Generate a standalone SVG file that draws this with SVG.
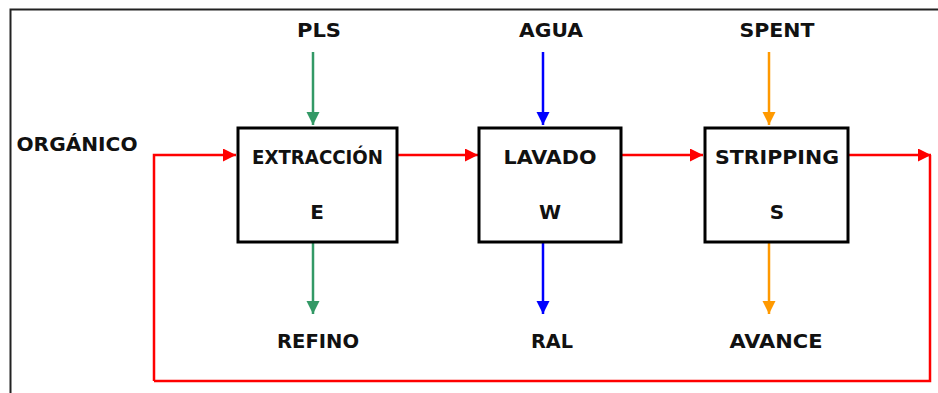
<svg xmlns="http://www.w3.org/2000/svg" width="938" height="393" viewBox="0 0 938 393">
<defs>
<style>
text{font-family:"DejaVu Sans","Liberation Sans",sans-serif;font-weight:bold;font-size:20px;fill:#111;text-anchor:middle}
.box{fill:#fff;stroke:#000;stroke-width:3}
.c{fill:none;stroke-width:2.5}
.red{stroke:#ff0000}.grn{stroke:#339966}.blu{stroke:#0000ff}.org{stroke:#ff9900}
</style>
<marker id="aR" markerUnits="userSpaceOnUse" markerWidth="14" markerHeight="14" refX="13" refY="6.5" orient="auto"><path d="M0,0 L13,6.5 L0,13 z" fill="#ff0000"/></marker>
<marker id="aG" markerUnits="userSpaceOnUse" markerWidth="14" markerHeight="14" refX="13" refY="6.5" orient="auto"><path d="M0,0 L13,6.5 L0,13 z" fill="#339966"/></marker>
<marker id="aB" markerUnits="userSpaceOnUse" markerWidth="14" markerHeight="14" refX="13" refY="6.5" orient="auto"><path d="M0,0 L13,6.5 L0,13 z" fill="#0000ff"/></marker>
<marker id="aO" markerUnits="userSpaceOnUse" markerWidth="14" markerHeight="14" refX="13" refY="6.5" orient="auto"><path d="M0,0 L13,6.5 L0,13 z" fill="#ff9900"/></marker>
</defs>
<rect width="938" height="393" fill="#fff"/>
<rect x="10.5" y="9.5" width="960" height="420" fill="none" stroke="#222" stroke-width="2"/>
<g id="connectors">
<path class="c red" d="M154,381 L154,155 L236,155" marker-end="url(#aR)"/>
<path class="c red" d="M398,155 L478,155" marker-end="url(#aR)"/>
<path class="c red" d="M622,155 L703,155" marker-end="url(#aR)"/>
<path class="c red" d="M849,155 L931,155" marker-end="url(#aR)"/>
<path class="c red" d="M930,155 L930,381 L154,381"/>
<path class="c grn" d="M313,52 L313,125" marker-end="url(#aG)"/>
<path class="c grn" d="M313,242 L313,314" marker-end="url(#aG)"/>
<path class="c blu" d="M543,52 L543,125" marker-end="url(#aB)"/>
<path class="c blu" d="M543,242 L543,314" marker-end="url(#aB)"/>
<path class="c org" d="M769,52 L769,125" marker-end="url(#aO)"/>
<path class="c org" d="M769,242 L769,314" marker-end="url(#aO)"/>
</g>
<g id="organico"><text x="77" y="151" textLength="121" lengthAdjust="spacingAndGlyphs">ORGÁNICO</text></g>
<g id="pls"><text x="319" y="37" textLength="44" lengthAdjust="spacingAndGlyphs">PLS</text></g>
<g id="agua"><text x="551" y="37" textLength="64" lengthAdjust="spacingAndGlyphs">AGUA</text></g>
<g id="spent"><text x="777" y="37" textLength="75" lengthAdjust="spacingAndGlyphs">SPENT</text></g>
<g id="extraccion"><rect class="box" x="238" y="128" width="159" height="114"/><text x="317.5" y="164" textLength="131" lengthAdjust="spacingAndGlyphs">EXTRACCIÓN</text><text x="317" y="219">E</text></g>
<g id="lavado"><rect class="box" x="479" y="128" width="142" height="114"/><text x="550" y="164" textLength="93" lengthAdjust="spacingAndGlyphs">LAVADO</text><text x="550" y="219">W</text></g>
<g id="stripping"><rect class="box" x="705" y="128" width="143" height="114"/><text x="777" y="164" textLength="124" lengthAdjust="spacingAndGlyphs">STRIPPING</text><text x="777" y="219">S</text></g>
<g id="refino"><text x="318" y="348" textLength="82" lengthAdjust="spacingAndGlyphs">REFINO</text></g>
<g id="ral"><text x="552" y="348" textLength="42" lengthAdjust="spacingAndGlyphs">RAL</text></g>
<g id="avance"><text x="776" y="348" textLength="93" lengthAdjust="spacingAndGlyphs">AVANCE</text></g>
</svg>
